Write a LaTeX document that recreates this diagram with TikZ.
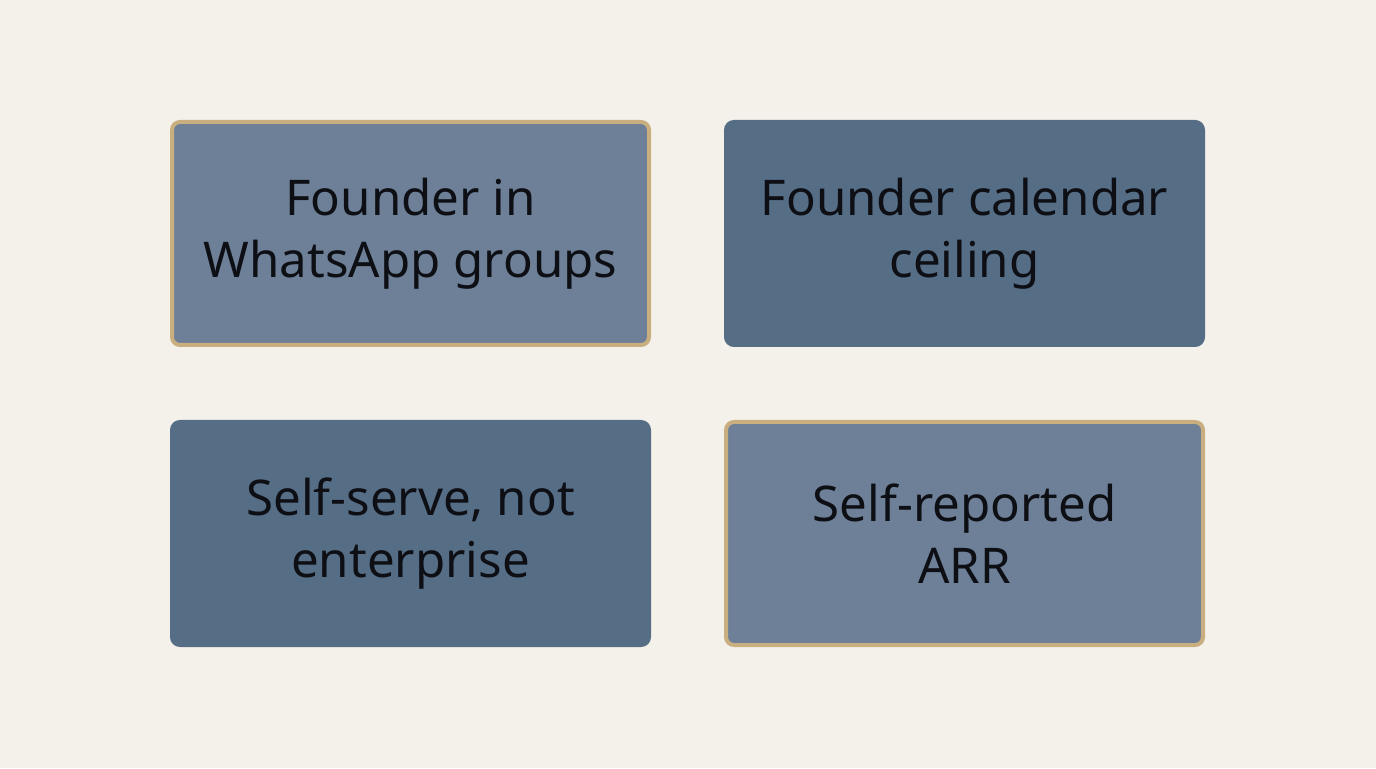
\documentclass[tikz,border=0pt]{standalone}
\usepackage{fontspec}
\setmainfont{Noto Sans}
\usepackage{xcolor}
\usetikzlibrary{positioning}
\definecolor{paper}{HTML}{F4F1EB}
\definecolor{slatelight}{HTML}{6D8097}
\definecolor{slatedark}{HTML}{566D86}
\definecolor{goldedge}{HTML}{C9AE80}
\definecolor{inkdark}{HTML}{0D0F14}

\begin{document}
\begin{tikzpicture}[
    node distance=1.46cm and 1.46cm,
    card/.style={rounded corners=0.16cm, minimum width=9.54cm, minimum height=4.46cm,
      line width=0.08cm, align=center, text=inkdark,
      font=\fontsize{28pt}{35.3pt}\selectfont},
    flagged/.style={card, fill=slatelight, draw=goldedge},
    plain/.style={card, fill=slatedark, draw=slatedark}
  ]
    \fill[paper] (0,0) rectangle (27.52,15.36);
    \useasboundingbox (0,0) rectangle (27.52,15.36);
    \node[flagged] (whatsapp) at (8.21,10.69) {Founder in\\WhatsApp groups};
    \node[plain, right=of whatsapp] (calendar) {Founder calendar\\ceiling};
    \node[plain, below=of whatsapp] (selfserve) {Self-serve, not\\enterprise};
    \node[flagged, below=of calendar] (arr) {Self-reported\\ARR};
  \end{tikzpicture}
\end{document}
